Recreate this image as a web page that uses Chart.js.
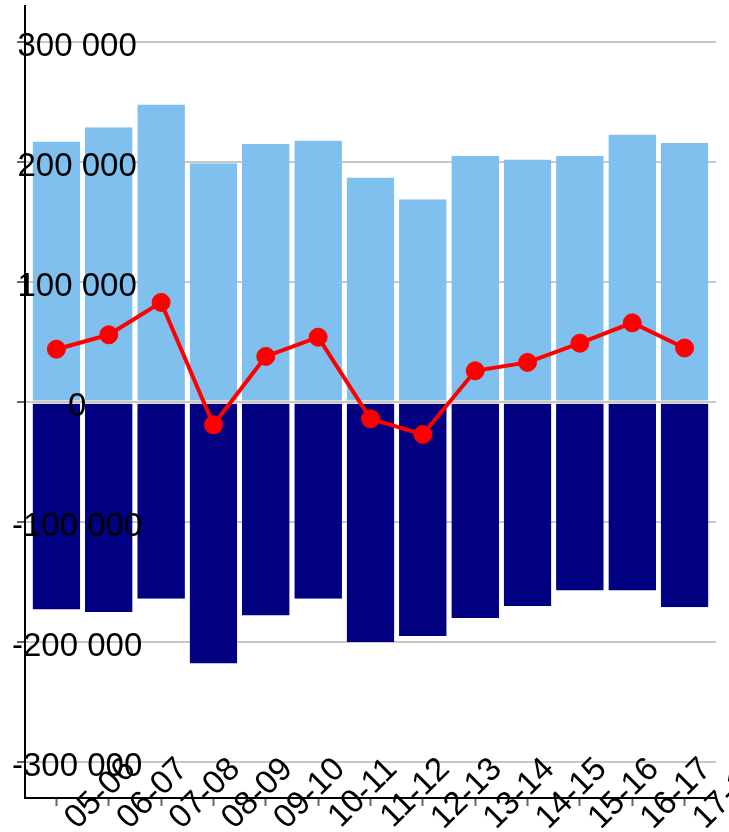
<!DOCTYPE html>
<html>
<head>
<meta charset="utf-8">
<title>Flux par saison</title>
<script src="https://cdn.jsdelivr.net/npm/chart.js@4.4.1/dist/chart.umd.min.js"></script>
<style>
    html, body { margin: 0; padding: 0; background: #fff; }
    #wrap { width: 729px; height: 832px; }
</style>
</head>
<body>
<div id="wrap"><canvas id="chart" width="729" height="832"></canvas></div>
<script>
// Data
const seasons = ['05-06', '06-07', '07-08', '08-09', '09-10', '10-11', '11-12',
    '12-13', '13-14', '14-15', '15-16', '16-17', '17-18'];
const inflow = [217000, 229000, 248000, 199000, 215000, 218000, 187000,
    169000, 205000, 202000, 205000, 223000, 216000];
const outflow = [-173000, -175000, -164000, -218000, -178000, -164000, -200000,
    -195000, -180000, -170000, -157000, -157000, -171000];
const netFlow = [44000, 56000, 83000, -19000, 38000, 54000, -14000,
    -27000, 26000, 33000, 49000, 66000, 45000];
const yTicks = [-300000, -200000, -100000, 0, 100000, 200000, 300000];

const FONT = { family: "'Liberation Sans', Arial, sans-serif", size: 33 };

// "100 000" style
function fmt(v) {
    return String(v).replace(/\B(?=(\d{3})+(?!\d))/g, ' ');
}

const points = arr => arr.map((v, i) => ({ x: i, y: v }));

new Chart(document.getElementById('chart').getContext('2d'), {
    data: {
        datasets: [
            {
                type: 'line',
                data: points(netFlow),
                borderColor: '#ff0000',
                backgroundColor: '#ff0000',
                borderWidth: 4,
                pointRadius: 9,
                pointBorderWidth: 1,
                order: 0
            },
            {
                type: 'bar',
                data: points(inflow),
                backgroundColor: '#80c0ee',
                borderColor: '#dcdcdc',
                borderWidth: { top: 0, right: 0, bottom: 1, left: 0 },
                borderSkipped: false,
                grouped: false,
                categoryPercentage: 1,
                barPercentage: 0.91,
                order: 1
            },
            {
                type: 'bar',
                data: points(outflow),
                backgroundColor: '#000080',
                borderColor: '#dcdcdc',
                borderWidth: { top: 1, right: 0, bottom: 0, left: 0 },
                borderSkipped: false,
                grouped: false,
                categoryPercentage: 1,
                barPercentage: 0.91,
                order: 1
            }
        ]
    },
    options: {
        responsive: false,
        animation: false,
        devicePixelRatio: 1,
        layout: { autoPadding: false, padding: { left: 0, right: 13, top: 6, bottom: 0 } },
        plugins: { legend: { display: false }, tooltip: { enabled: false } },
        scales: {
            x: {
                type: 'linear',
                min: -0.6,
                max: 12.6,
                offset: false,
                grid: { offset: false, drawOnChartArea: false, tickLength: 8, tickColor: '#666', tickWidth: 2 },
                border: { color: '#000', width: 2 },
                ticks: {
                    autoSkip: false,
                    minRotation: 45,
                    maxRotation: 45,
                    // mirror keeps the labels from being clipped to the axis box
                    mirror: true,
                    labelOffset: 102,
                    padding: 20,
                    color: '#000',
                    font: FONT,
                    z: 1,
                    callback: v => seasons[v]
                },
                afterBuildTicks: s => { s.ticks = seasons.map((c, i) => ({ value: i })); },
                afterFit: s => { s.height = 34; s.paddingLeft = 0; s.paddingRight = 0; }
            },
            y: {
                min: -330000,
                max: 330000,
                grid: { color: '#c8c8c8', lineWidth: 2, tickLength: 8, tickColor: '#666', tickWidth: 2 },
                border: { color: '#000', width: 2 },
                ticks: {
                    mirror: true,
                    crossAlign: 'center',
                    padding: -13,
                    labelOffset: 5,
                    color: '#000',
                    font: FONT,
                    z: 1,
                    callback: v => fmt(v)
                },
                afterBuildTicks: s => { s.ticks = yTicks.map(v => ({ value: v })); },
                afterFit: s => { s.width = 25; s.paddingTop = 0; s.paddingBottom = 0; }
            }
        }
    }
});
</script>
</body>
</html>
